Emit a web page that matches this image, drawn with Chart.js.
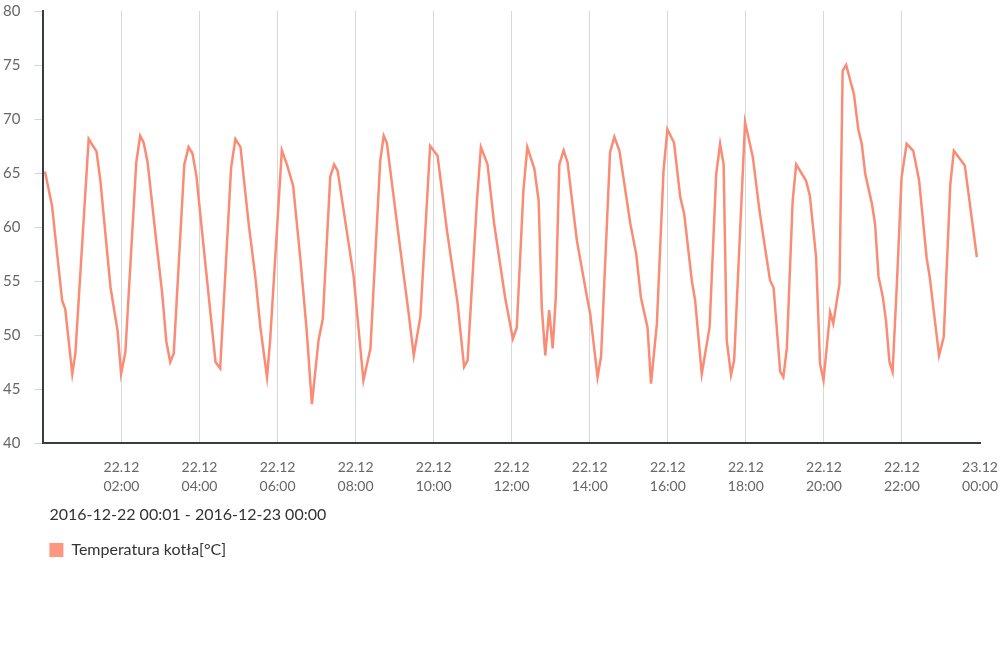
<!DOCTYPE html>
<html>
<head>
<meta charset="utf-8">
<script src="https://cdn.jsdelivr.net/npm/chart.js@4"></script>
<style>
html,body{margin:0;padding:0;background:#fff;overflow:hidden;}
#wrap{width:1000px;height:649px;position:relative;overflow:hidden;}
#c{position:absolute;left:0;top:-12px;}
</style>
</head>
<body>
<div id="wrap"><canvas id="c" width="1013" height="661"></canvas></div>
<script>
// time in hours since 2016-12-22 00:00
const hours = [0.04,0.22,0.48,0.56,0.74,0.82,1.16,1.36,1.46,1.72,1.90,1.99,2.10,2.38,2.48,2.57,2.67,2.89,3.04,3.15,3.25,3.34,3.61,3.72,3.82,3.92,4.07,4.41,4.53,4.81,4.92,5.05,5.26,5.43,5.56,5.73,5.81,6.11,6.24,6.40,6.58,6.74,6.88,7.05,7.16,7.35,7.45,7.54,7.95,8.20,8.38,8.63,8.72,8.80,9.14,9.36,9.49,9.66,9.91,10.10,10.34,10.61,10.78,10.87,11.11,11.21,11.38,11.55,11.83,12.03,12.13,12.30,12.40,12.58,12.69,12.77,12.86,12.96,13.05,13.13,13.22,13.33,13.43,13.67,13.93,14.01,14.20,14.29,14.52,14.63,14.76,15.04,15.19,15.31,15.48,15.57,15.72,15.89,15.99,16.16,16.32,16.42,16.62,16.70,16.87,17.07,17.24,17.34,17.43,17.51,17.62,17.70,17.98,18.18,18.35,18.49,18.62,18.71,18.88,18.96,19.05,19.20,19.29,19.54,19.64,19.80,19.90,19.99,20.16,20.24,20.40,20.48,20.57,20.77,20.88,20.97,21.06,21.23,21.31,21.40,21.51,21.59,21.68,21.76,21.87,21.99,22.12,22.29,22.44,22.63,22.71,22.95,23.07,23.24,23.33,23.61,23.92];
const temps = [65.15,62.0,53.2,52.4,46.4,48.3,68.15,67.0,64.3,54.4,50.4,46.4,48.4,66.0,68.45,67.8,66.0,58.75,54.0,49.4,47.5,48.3,65.8,67.4,66.8,64.75,59.4,47.5,46.9,65.5,68.15,67.4,60.3,55.4,50.7,46.1,49.5,67.1,65.8,63.8,57.2,50.7,43.6,49.5,51.5,64.65,65.8,65.2,55.4,45.8,48.75,66.1,68.45,67.8,58.1,52.0,48.1,51.7,67.5,66.6,59.7,53.05,47.05,47.65,62.45,67.4,65.8,60.3,53.5,49.65,50.7,63.4,67.4,65.4,62.45,52.6,48.1,52.3,48.75,53.5,65.8,67.1,66.0,58.75,53.5,52.0,46.1,48.0,66.9,68.35,67.05,60.3,57.5,53.5,50.7,45.5,51.05,65.2,69.05,67.8,62.75,61.2,54.9,53.2,46.4,50.7,64.9,67.7,65.8,49.5,46.3,47.65,69.7,66.45,61.5,58.1,55.05,54.4,46.6,46.1,48.75,62.45,65.8,64.3,62.9,57.2,47.35,45.8,52.1,51.05,54.75,74.45,75.0,72.3,69.05,67.7,64.9,62.15,60.3,55.4,53.5,51.35,47.5,46.6,54.75,64.6,67.7,67.05,64.3,57.2,55.4,48.1,49.8,64.0,67.05,65.7,57.2];
const tickHours = [2,4,6,8,10,12,14,16,18,20,22,24];
const tickLabels = [["22.12","02:00"],["22.12","04:00"],["22.12","06:00"],["22.12","08:00"],["22.12","10:00"],["22.12","12:00"],["22.12","14:00"],["22.12","16:00"],["22.12","18:00"],["22.12","20:00"],["22.12","22:00"],["23.12","00:00"]];
const seriesName = "Temperatura kotła[°C]";
const rangeTitle = "2016-12-22 00:01 - 2016-12-23 00:00";

const points = hours.map((h,i)=>({x:h,y:temps[i]}));

Chart.defaults.font.family = "Lato, 'Open Sans', sans-serif";

const shiftTitle = {
  id: 'shiftTitle',
  afterLayout(chart) {
    if (chart.titleBlock) { chart.titleBlock.left += 6; chart.titleBlock.right += 6; }
  }
};

new Chart(document.getElementById('c'), {
  type: 'line',
  data: {
    datasets: [{
      label: seriesName,
      data: points,
      borderColor: '#fa8c75',
      backgroundColor: '#ff9680',
      borderWidth: 2.5,
      pointRadius: 0,
      tension: 0,
      fill: false
    }]
  },
  plugins: [shiftTitle],
  options: {
    responsive: false,
    animation: false,
    layout: { padding: { left: -11, right: 0, top: 0, bottom: 81 } },
    scales: {
      x: {
        type: 'linear',
        min: 0, max: 24,
        afterBuildTicks: (axis) => { axis.ticks = [0].concat(tickHours).map(v => ({value: v})); },
        ticks: {
          autoSkip: false,
          maxRotation: 0,
          color: '#666',
          font: { size: 14, lineHeight: 1.35 },
          padding: 15,
          callback: (v) => { const i = tickHours.indexOf(v); return i >= 0 ? tickLabels[i] : ''; }
        },
        grid: {
          drawTicks: false,
          color: (ctx) => (ctx.tick && (ctx.tick.value === 0 || ctx.tick.value === 24)) ? 'rgba(0,0,0,0)' : '#d8d8d8',
          lineWidth: 1
        },
        border: { color: '#383d45', width: 2 }
      },
      y: {
        min: 40, max: 80,
        ticks: { stepSize: 5, color: '#666', font: { size: 15 }, padding: 14 },
        grid: { drawOnChartArea: false, drawTicks: true, tickLength: 9, color: '#d5d5d5' },
        border: { color: '#383d45', width: 2 }
      }
    },
    plugins: {
      title: {
        display: true,
        text: rangeTitle,
        position: 'bottom',
        align: 'start',
        fullSize: false,
        weight: 500,
        color: '#333',
        font: { size: 16, weight: 'normal' },
        padding: { top: -6, bottom: 12 }
      },
      legend: {
        display: true,
        position: 'bottom',
        align: 'start',
        fullSize: false,
        labels: {
          color: '#333',
          font: { size: 16 },
          boxWidth: 14,
          boxHeight: 14,
          padding: 6,
          generateLabels: (chart) => Chart.defaults.plugins.legend.labels.generateLabels(chart).map(l => Object.assign(l, {lineWidth: 0, fillStyle: '#ff9680', strokeStyle: '#ff9680'}))
        }
      },
      tooltip: { enabled: false }
    }
  }
});
</script>
</body>
</html>
